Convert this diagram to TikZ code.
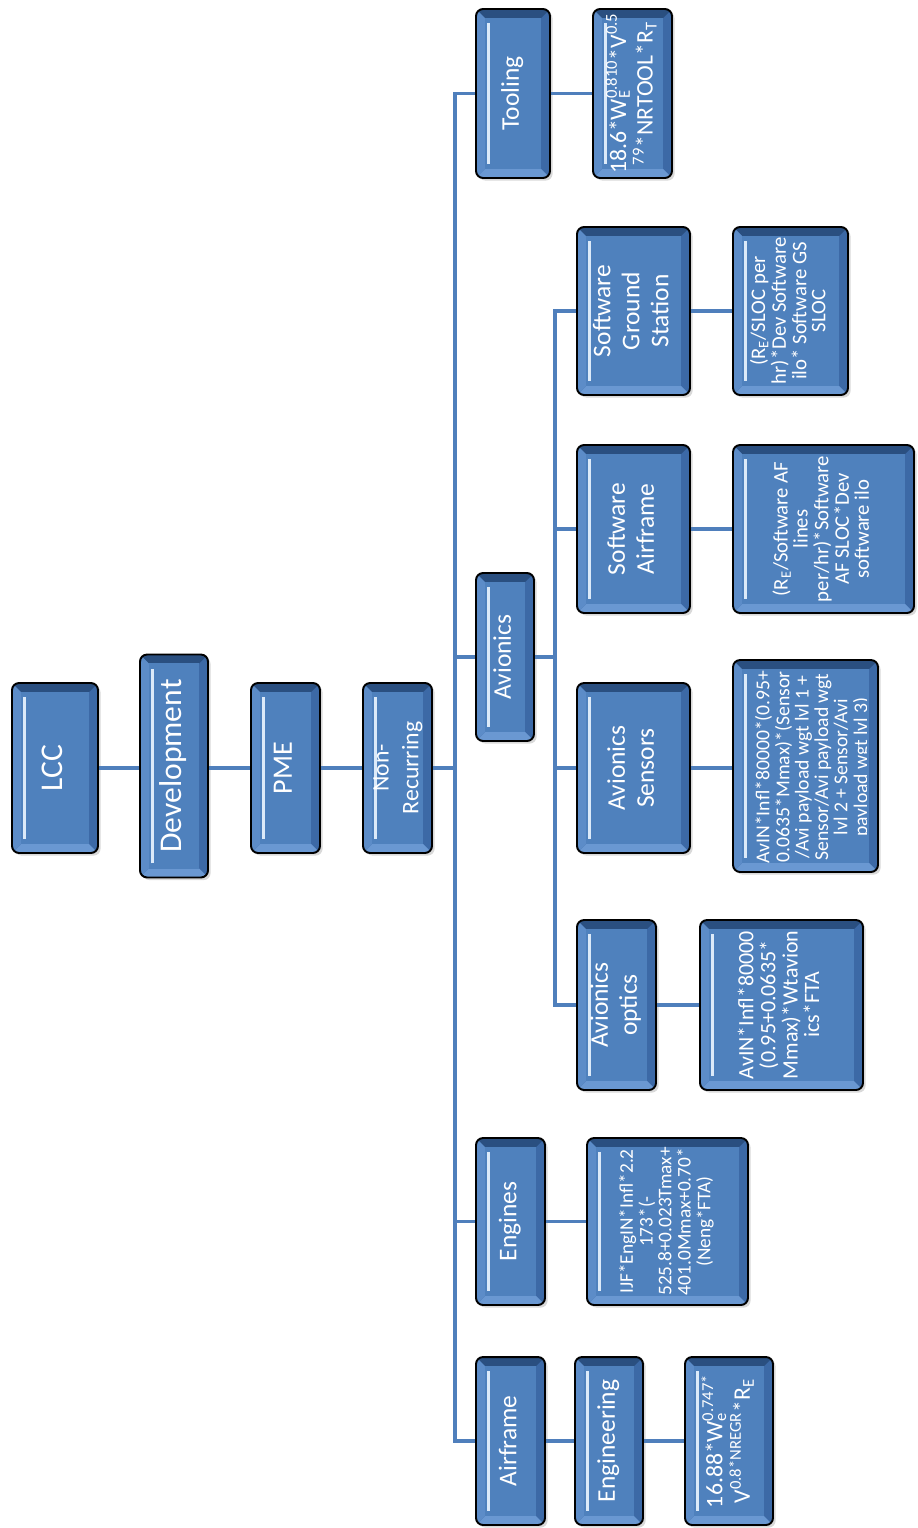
\documentclass[tikz,border=0pt]{standalone}
\usepackage{fontspec}
\setmainfont{Carlito}
\usepackage{graphicx}
\usetikzlibrary{shadows}

\definecolor{faceblue}{HTML}{4F81BD}
\definecolor{bandtop}{HTML}{2A4F80}
\definecolor{bandbot}{HTML}{6A98D2}
\definecolor{bandright}{HTML}{3C69A6}
\definecolor{bandleft}{HTML}{5C8CC8}
\definecolor{glint}{HTML}{DCEAF9}
\definecolor{linkblue}{HTML}{4F7FBC}

% vertical (rotated) multi-line label
\newcommand\rt[1]{\rotatebox{90}{\begin{tabular}{@{}c@{}}#1\end{tabular}}}
% stacked superscript / subscript
\newcommand\supsub[2]{\makebox[0pt][l]{\textsubscript{#2}}\textsuperscript{#1}}

\newcommand\fTop{\fontsize{18}{20}\selectfont}
\newcommand\fPme{\fontsize{16}{18}\selectfont}
\newcommand\fNr{\fontsize{13.5}{17}\selectfont}
\newcommand\fLbl{\fontsize{14.5}{16.5}\selectfont}
\newcommand\fBig{\fontsize{13.5}{12.6}\selectfont}
\newcommand\fEngF{\fontsize{11}{10.6}\selectfont}
\newcommand\fOptF{\fontsize{12.5}{11.4}\selectfont}
\newcommand\fSmall{\fontsize{11.8}{10.7}\selectfont}
\newcommand\fSens{\fontsize{11.2}{10.7}\selectfont}

\tikzset{
  bx/.style={draw=black, line width=1.1pt, rounded corners=4pt, fill=bandright,
    inner sep=0pt, text=white,
    drop shadow={shadow xshift=1.5pt, shadow yshift=-1.5pt, opacity=0.3},
    path picture={
      \coordinate (bl) at (path picture bounding box.south west);
      \coordinate (tr) at (path picture bounding box.north east);
      \coordinate (tl) at (path picture bounding box.north west);
      \coordinate (br) at (path picture bounding box.south east);
      \begin{scope}[sharp corners]
        \fill[bandtop] (tl) -- (tr) -- ([shift={(-5pt,-5pt)}]tr) -- ([shift={(5pt,-5pt)}]tl) -- cycle;
        \fill[bandbot] (bl) -- (br) -- ([shift={(-5pt,5pt)}]br) -- ([shift={(5pt,5pt)}]bl) -- cycle;
        \fill[bandleft] (tl) -- (bl) -- ([shift={(5pt,5pt)}]bl) -- ([shift={(5pt,-5pt)}]tl) -- cycle;
        \fill[faceblue] ([shift={(5pt,5pt)}]bl) rectangle ([shift={(-5pt,-5pt)}]tr);
        \draw[glint, line width=1.4pt] ([shift={(7pt,8pt)}]bl) -- ([shift={(7pt,-8pt)}]tl);
      \end{scope}
    }},
  link/.style={draw=linkblue, line width=2.2pt},
}

\begin{document}
\begin{tikzpicture}[x={(0.02cm,0cm)}, y={(0cm,-0.02cm)}]
\useasboundingbox (0,0) rectangle (918,1528);

% top chain
\node[bx, minimum width=1.72cm, minimum height=3.4cm, font=\fTop] (lcc) at (55,768) {\rt{LCC}};
\node[bx, minimum width=1.36cm, minimum height=4.46cm, font=\fTop] (dev) at (174,766) {\rt{Development}};
\node[bx, minimum width=1.38cm, minimum height=3.4cm, font=\fPme] (pme) at (285.5,768) {\rt{PME}};
\node[bx, minimum width=1.38cm, minimum height=3.4cm, font=\fNr] (nr) at (397.5,768) {\rt{Non-\\Recurring}};

% second level
\node[bx, minimum width=1.48cm, minimum height=3.38cm, font=\fLbl] (tool) at (513,93.5) {\rt{Tooling}};
\node[bx, minimum width=1.16cm, minimum height=3.36cm, font=\fLbl] (avionics) at (505,657) {\rt{Avionics}};
\node[bx, minimum width=1.38cm, minimum height=3.34cm, font=\fLbl] (engines) at (510.5,1221.5) {\rt{Engines}};
\node[bx, minimum width=1.38cm, minimum height=3.36cm, font=\fLbl] (airframe) at (510.5,1441) {\rt{Airframe}};

% avionics children
\node[bx, minimum width=2.26cm, minimum height=3.36cm, font=\fLbl] (sgs) at (633.5,311) {\rt{Software\\Ground\\Station}};
\node[bx, minimum width=2.26cm, minimum height=3.36cm, font=\fLbl] (swaf) at (633.5,529) {\rt{Software\\Airframe}};
\node[bx, minimum width=2.26cm, minimum height=3.4cm, font=\fLbl] (sensors) at (633.5,768) {\rt{Avionics\\Sensors}};
\node[bx, minimum width=1.58cm, minimum height=3.4cm, font=\fLbl] (optics) at (616.5,1005) {\rt{Avionics\\optics}};
\node[bx, minimum width=1.36cm, minimum height=3.36cm, font=\fLbl] (eng) at (609,1441) {\rt{Engineering}};

% cost formulas
\node[bx, minimum width=1.58cm, minimum height=3.38cm, font=\fBig] (toolf) at (632.5,93.5)
  {\rt{18.6*W\supsub{0.810}{E}*V\textsuperscript{0.5}\\\textsuperscript{79}*NRTOOL*R\textsubscript{T}}};
\node[bx, minimum width=2.3cm, minimum height=3.36cm, font=\fSmall] (sgsf) at (790.5,311)
  {\rt{(R\textsubscript{E}/SLOC per\\hr)*Dev Software\\ilo* Software GS\\SLOC}};
\node[bx, minimum width=3.62cm, minimum height=3.36cm, font=\fSmall] (swaff) at (823.5,529)
  {\rt{(R\textsubscript{E}/Software AF\\lines\\per/hr)*Software\\AF SLOC*Dev\\software ilo}};
\node[bx, minimum width=2.9cm, minimum height=4.24cm] (sensorsf) at (805.5,766) {};
\begin{scope}
  \clip (740,668) rectangle (866,866);
  \node[text=white, font=\fSens, inner sep=0pt] (sensorsft) at (814,767)
    {\rt{AvIN*Infl*80000*(0.95+\\0.0635*Mmax)*(Sensor\\/Avi payload wgt lvl 1 +\\Sensor/Avi payload wgt\\lvl 2 + Sensor/Avi\\payload wgt lvl 3)}};
\end{scope}
\node[bx, minimum width=3.26cm, minimum height=3.4cm, font=\fOptF] (opticsf) at (781.5,1005)
  {\rt{AvIN*Infl*80000\\*(0.95+0.0635*\\Mmax)*Wtavion\\ics*FTA}};
\node[bx, minimum width=3.22cm, minimum height=3.34cm, font=\fEngF] (enginesf) at (667.5,1221.5)
  {\rt{IJF*EngIN*Infl*2.2\\173*(-\\525.8+0.023Tmax+\\401.0Mmax+0.70*\\(Neng*FTA)}};
\node[bx, minimum width=1.76cm, minimum height=3.36cm, font=\fBig] (engf) at (729,1441)
  {\rt{16.88*W\supsub{0.747*}{e}\\V\textsuperscript{0.8*NREGR}*R\textsubscript{E}}};

% connectors
\coordinate (busx) at (455,768);
\coordinate (avbus) at (555,657);
\draw[link] (lcc.east) -- (lcc.east -| dev.west);
\draw[link] (dev.east |- pme.west) -- (pme.west);
\draw[link] (pme.east) -- (nr.west);
\draw[link] (nr.east) -- (busx);
\draw[link] (busx) |- (tool.west);
\draw[link] (busx) |- (airframe.west);
\draw[link] (busx |- avionics.west) -- (avionics.west);
\draw[link] (busx |- engines.west) -- (engines.west);
\draw[link] (avionics.east) -- (avbus);
\draw[link] (avbus) |- (sgs.west);
\draw[link] (avbus) |- (optics.west);
\draw[link] (avbus |- swaf.west) -- (swaf.west);
\draw[link] (avbus |- sensors.west) -- (sensors.west);
\draw[link] (tool.east) -- (tool.east -| toolf.west);
\draw[link] (sgs.east) -- (sgs.east -| sgsf.west);
\draw[link] (swaf.east) -- (swaf.east -| swaff.west);
\draw[link] (sensors.east) -- (sensors.east -| sensorsf.west);
\draw[link] (optics.east) -- (optics.east -| opticsf.west);
\draw[link] (engines.east) -- (engines.east -| enginesf.west);
\draw[link] (airframe.east) -- (eng.west);
\draw[link] (eng.east) -- (eng.east -| engf.west);
\end{tikzpicture}
\end{document}
